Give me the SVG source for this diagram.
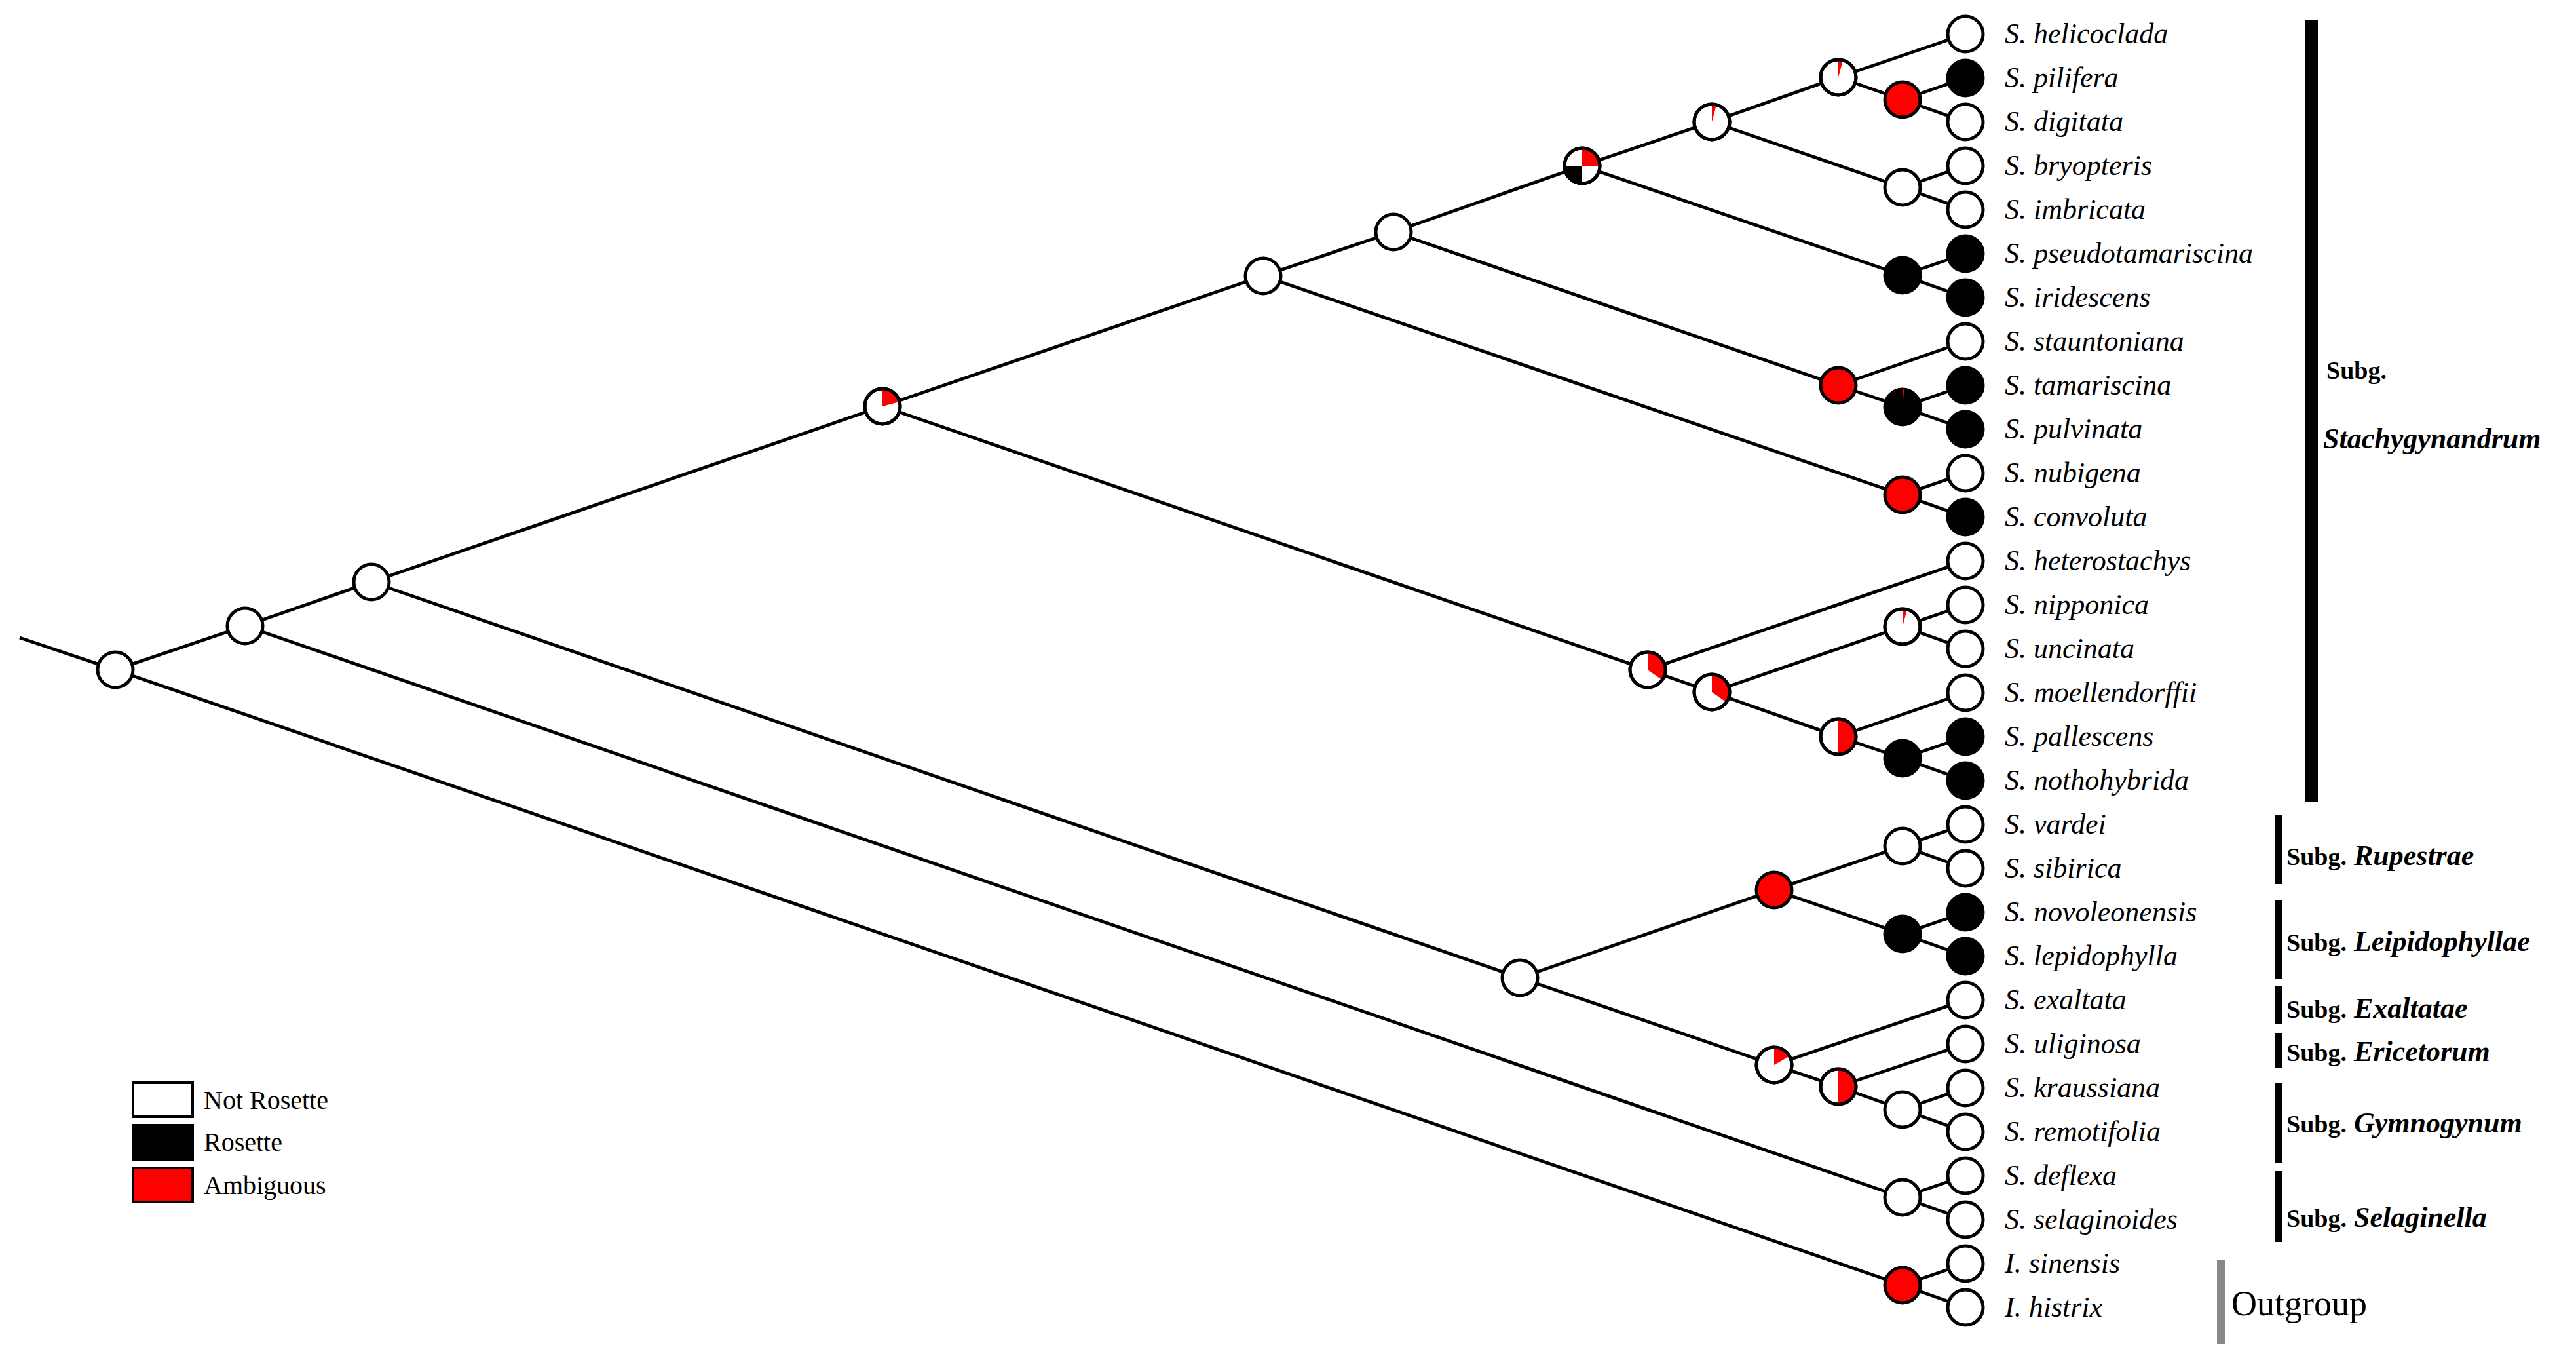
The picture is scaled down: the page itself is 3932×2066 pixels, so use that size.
<svg xmlns="http://www.w3.org/2000/svg" width="3932" height="2066" viewBox="0 0 3932 2066">
<style>
.e{stroke:#000;stroke-width:5;fill:none}
.w{fill:#fff;stroke:#000;stroke-width:5}
.b{fill:#000;stroke:#000;stroke-width:5}
.r{fill:#f00;stroke:#000;stroke-width:5}
.o{fill:none;stroke:#000;stroke-width:5}
.red{fill:#f00}
.blk{fill:#000}
.t{font-family:"Liberation Serif",serif;font-style:italic;font-size:44px}
.s{font-family:"Liberation Serif",serif;font-weight:bold;font-size:38px}
.si{font-family:"Liberation Serif",serif;font-weight:bold;font-style:italic;font-size:44px}
.lg{font-family:"Liberation Serif",serif;font-size:40px}
</style>
<rect width="3932" height="2066" fill="#fff"/>
<g id="connectors">
<path class="e" d="M30,973L176,1022 M176,1022L374,955 M176,1022L2904,1961 M374,955L567,888 M374,955L2904,1827 M567,888L1347,620 M567,888L2320,1492 M1347,620L1928,421 M1347,620L2515,1022 M1928,421L2127,354 M1928,421L2904,755 M2127,354L2415,253 M2127,354L2806,588 M2415,253L2613,186 M2415,253L2904,420 M2613,186L2806,118 M2613,186L2904,286 M2806,118L3000,52 M2806,118L2904,152 M2904,152L3000,119 M2904,152L3000,186 M2904,286L3000,253 M2904,286L3000,320 M2904,420L3000,387 M2904,420L3000,454 M2806,588L3000,521 M2806,588L2904,621 M2904,621L3000,588 M2904,621L3000,655 M2904,755L3000,722 M2904,755L3000,789 M2515,1022L3000,856 M2515,1022L2613,1056 M2613,1056L2904,956 M2613,1056L2806,1124 M2904,956L3000,923 M2904,956L3000,990 M2806,1124L3000,1057 M2806,1124L2904,1157 M2904,1157L3000,1124 M2904,1157L3000,1191 M2320,1492L2708,1358 M2320,1492L2708,1625 M2708,1358L2904,1291 M2708,1358L2904,1425 M2904,1291L3000,1258 M2904,1291L3000,1325 M2904,1425L3000,1392 M2904,1425L3000,1459 M2708,1625L3000,1526 M2708,1625L2806,1658 M2806,1658L3000,1593 M2806,1658L2904,1693 M2904,1693L3000,1660 M2904,1693L3000,1727 M2904,1827L3000,1794 M2904,1827L3000,1861 M2904,1961L3000,1928 M2904,1961L3000,1995"/>
</g>
<g id="internal-nodes">
<circle class="w" cx="176" cy="1022" r="27"/>
<circle class="w" cx="374" cy="955" r="27"/>
<circle class="w" cx="567" cy="888" r="27"/>
<g id="n3"><circle class="w" cx="1347" cy="620" r="27"/><path class="red" d="M1347,620L1347,593A27,27 0 0 1 1373.1,613Z"/><circle class="o" cx="1347" cy="620" r="27"/></g>
<circle class="w" cx="1928" cy="421" r="27"/>
<circle class="w" cx="2127" cy="354" r="27"/>
<g id="n6"><circle class="w" cx="2415" cy="253" r="27"/><path class="red" d="M2415,253L2415,226A27,27 0 0 1 2442,253Z"/><path class="blk" d="M2415,253L2415,280A27,27 0 0 1 2388,253Z"/><circle class="o" cx="2415" cy="253" r="27"/></g>
<g id="n7"><circle class="w" cx="2613" cy="186" r="27"/><path class="red" d="M2613,186L2613,159A27,27 0 0 1 2620,159.9Z"/><circle class="o" cx="2613" cy="186" r="27"/></g>
<g id="n8"><circle class="w" cx="2806" cy="118" r="27"/><path class="red" d="M2806,118L2806,91A27,27 0 0 1 2813,91.9Z"/><circle class="o" cx="2806" cy="118" r="27"/></g>
<circle class="r" cx="2904" cy="152" r="27"/>
<circle class="w" cx="2904" cy="286" r="27"/>
<circle class="b" cx="2904" cy="420" r="27"/>
<circle class="r" cx="2806" cy="588" r="27"/>
<g id="n13"><circle class="b" cx="2904" cy="621" r="27"/><path class="red" d="M2904,621L2904,594A27,27 0 0 1 2906.4,594.1Z"/></g>
<circle class="r" cx="2904" cy="755" r="27"/>
<g id="n15"><circle class="w" cx="2515" cy="1022" r="27"/><path class="red" d="M2515,1022L2515,995A27,27 0 0 1 2537.1,1037.5Z"/><circle class="o" cx="2515" cy="1022" r="27"/></g>
<g id="n16"><circle class="w" cx="2613" cy="1056" r="27"/><path class="red" d="M2613,1056L2613,1029A27,27 0 0 1 2635.1,1071.5Z"/><circle class="o" cx="2613" cy="1056" r="27"/></g>
<g id="n17"><circle class="w" cx="2904" cy="956" r="27"/><path class="red" d="M2904,956L2904,929A27,27 0 0 1 2911,929.9Z"/><circle class="o" cx="2904" cy="956" r="27"/></g>
<g id="n18"><circle class="w" cx="2806" cy="1124" r="27"/><path class="red" d="M2806,1124L2806,1097A27,27 0 0 1 2806,1151Z"/><circle class="o" cx="2806" cy="1124" r="27"/></g>
<circle class="b" cx="2904" cy="1157" r="27"/>
<circle class="w" cx="2320" cy="1492" r="27"/>
<circle class="r" cx="2708" cy="1358" r="27"/>
<circle class="w" cx="2904" cy="1291" r="27"/>
<circle class="b" cx="2904" cy="1425" r="27"/>
<g id="n24"><circle class="w" cx="2708" cy="1625" r="27"/><path class="red" d="M2708,1625L2708,1598A27,27 0 0 1 2731.4,1611.5Z"/><circle class="o" cx="2708" cy="1625" r="27"/></g>
<g id="n25"><circle class="w" cx="2806" cy="1658" r="27"/><path class="red" d="M2806,1658L2806,1631A27,27 0 0 1 2806,1685Z"/><circle class="o" cx="2806" cy="1658" r="27"/></g>
<circle class="w" cx="2904" cy="1693" r="27"/>
<circle class="w" cx="2904" cy="1827" r="27"/>
<circle class="r" cx="2904" cy="1961" r="27"/>
</g>
<g id="leaves">
<circle class="w" cx="3000" cy="52" r="27"/><text class="t" x="3060" y="66">S. helicoclada</text>
<circle class="b" cx="3000" cy="119" r="27"/><text class="t" x="3060" y="133">S. pilifera</text>
<circle class="w" cx="3000" cy="186" r="27"/><text class="t" x="3060" y="200">S. digitata</text>
<circle class="w" cx="3000" cy="253" r="27"/><text class="t" x="3060" y="267">S. bryopteris</text>
<circle class="w" cx="3000" cy="320" r="27"/><text class="t" x="3060" y="334">S. imbricata</text>
<circle class="b" cx="3000" cy="387" r="27"/><text class="t" x="3060" y="401">S. pseudotamariscina</text>
<circle class="b" cx="3000" cy="454" r="27"/><text class="t" x="3060" y="468">S. iridescens</text>
<circle class="w" cx="3000" cy="521" r="27"/><text class="t" x="3060" y="535">S. stauntoniana</text>
<circle class="b" cx="3000" cy="588" r="27"/><text class="t" x="3060" y="602">S. tamariscina</text>
<circle class="b" cx="3000" cy="655" r="27"/><text class="t" x="3060" y="669">S. pulvinata</text>
<circle class="w" cx="3000" cy="722" r="27"/><text class="t" x="3060" y="736">S. nubigena</text>
<circle class="b" cx="3000" cy="789" r="27"/><text class="t" x="3060" y="803">S. convoluta</text>
<circle class="w" cx="3000" cy="856" r="27"/><text class="t" x="3060" y="870">S. heterostachys</text>
<circle class="w" cx="3000" cy="923" r="27"/><text class="t" x="3060" y="937">S. nipponica</text>
<circle class="w" cx="3000" cy="990" r="27"/><text class="t" x="3060" y="1004">S. uncinata</text>
<circle class="w" cx="3000" cy="1057" r="27"/><text class="t" x="3060" y="1071">S. moellendorffii</text>
<circle class="b" cx="3000" cy="1124" r="27"/><text class="t" x="3060" y="1138">S. pallescens</text>
<circle class="b" cx="3000" cy="1191" r="27"/><text class="t" x="3060" y="1205">S. nothohybrida</text>
<circle class="w" cx="3000" cy="1258" r="27"/><text class="t" x="3060" y="1272">S. vardei</text>
<circle class="w" cx="3000" cy="1325" r="27"/><text class="t" x="3060" y="1339">S. sibirica</text>
<circle class="b" cx="3000" cy="1392" r="27"/><text class="t" x="3060" y="1406">S. novoleonensis</text>
<circle class="b" cx="3000" cy="1459" r="27"/><text class="t" x="3060" y="1473">S. lepidophylla</text>
<circle class="w" cx="3000" cy="1526" r="27"/><text class="t" x="3060" y="1540">S. exaltata</text>
<circle class="w" cx="3000" cy="1593" r="27"/><text class="t" x="3060" y="1607">S. uliginosa</text>
<circle class="w" cx="3000" cy="1660" r="27"/><text class="t" x="3060" y="1674">S. kraussiana</text>
<circle class="w" cx="3000" cy="1727" r="27"/><text class="t" x="3060" y="1741">S. remotifolia</text>
<circle class="w" cx="3000" cy="1794" r="27"/><text class="t" x="3060" y="1808">S. deflexa</text>
<circle class="w" cx="3000" cy="1861" r="27"/><text class="t" x="3060" y="1875">S. selaginoides</text>
<circle class="w" cx="3000" cy="1928" r="27"/><text class="t" x="3060" y="1942">I. sinensis</text>
<circle class="w" cx="3000" cy="1995" r="27"/><text class="t" x="3060" y="2009">I. histrix</text>
</g>
<g id="clades">
<rect x="3518" y="30" width="20" height="1194" fill="#000"/>
<text class="s" x="3551" y="578" font-size="44">Subg.</text>
<text class="si" x="3546" y="684">Stachygynandrum</text>
<rect x="3473" y="1244" width="10" height="105" fill="#000"/>
<text x="3490" y="1320"><tspan class="s">Subg.</tspan><tspan class="si"> Rupestrae</tspan></text>
<rect x="3473" y="1374" width="10" height="120" fill="#000"/>
<text x="3490" y="1451"><tspan class="s">Subg.</tspan><tspan class="si"> Leipidophyllae</tspan></text>
<rect x="3473" y="1504" width="10" height="58" fill="#000"/>
<text x="3490" y="1553"><tspan class="s">Subg.</tspan><tspan class="si"> Exaltatae</tspan></text>
<rect x="3473" y="1576" width="10" height="53" fill="#000"/>
<text x="3490" y="1619"><tspan class="s">Subg.</tspan><tspan class="si"> Ericetorum</tspan></text>
<rect x="3473" y="1652" width="10" height="122" fill="#000"/>
<text x="3490" y="1728"><tspan class="s">Subg.</tspan><tspan class="si"> Gymnogynum</tspan></text>
<rect x="3473" y="1787" width="10" height="108" fill="#000"/>
<text x="3490" y="1872"><tspan class="s">Subg.</tspan><tspan class="si"> Selaginella</tspan></text>
<rect x="3384" y="1922" width="12" height="128" fill="#888"/>
<text x="3406" y="2007" font-family="Liberation Serif,serif" font-size="54">Outgroup</text>
</g>
<g id="legend">
<rect x="203" y="1652" width="91" height="52" fill="#fff" stroke="#000" stroke-width="4"/>
<text class="lg" x="311" y="1692">Not Rosette</text>
<rect x="203" y="1717" width="91" height="52" fill="#000" stroke="#000" stroke-width="4"/>
<text class="lg" x="311" y="1756">Rosette</text>
<rect x="203" y="1782" width="91" height="52" fill="#f00" stroke="#000" stroke-width="4"/>
<text class="lg" x="311" y="1822">Ambiguous</text>
</g>
</svg>
